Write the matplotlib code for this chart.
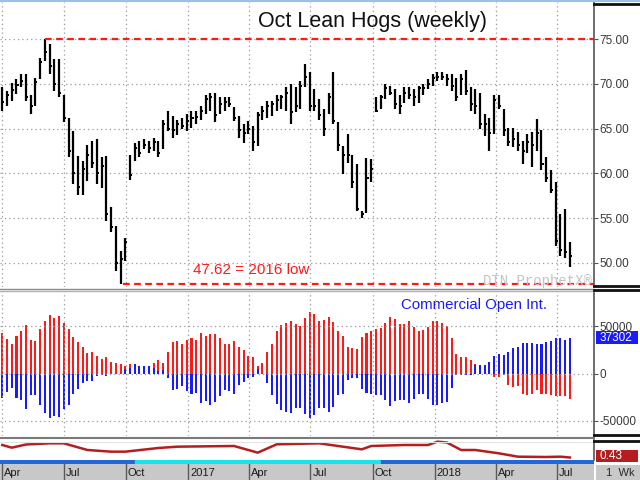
import matplotlib
matplotlib.use('Agg')
import matplotlib.pyplot as plt
import matplotlib.dates as mdates
from matplotlib.patches import Rectangle
from matplotlib.lines import Line2D
import pandas as pd

plt.rcParams['font.family'] = ['Liberation Sans', 'DejaVu Sans']

# --- Data ---
START_DATE = '2016-04-01'  # first weekly bar

highs = [69.6, 69.2, 70.1, 70.5, 71.1, 71.1, 68.7, 70.7, 72.9, 75.0, 74.4, 72.8, 72.8, 68.7, 66.2,
         64.7, 61.9, 61.4, 63.2, 63.6, 63.8, 61.8, 61.9, 56.2, 54.1, 51.3, 52.8,
         62.1, 63.4, 63.6, 63.8, 63.6, 64.0, 63.6, 66.0, 67.0, 66.4, 66.0, 66.2, 66.6, 67.0,
         67.0, 67.5, 68.8, 69.0, 69.0, 68.5, 68.5, 68.5, 67.4, 66.4, 65.5, 65.9, 65.3, 66.8,
         67.5, 68.1, 68.1, 68.7, 68.7, 69.6, 70.0, 69.6, 70.3, 72.2, 71.3, 69.4, 68.3, 67.2,
         69.0, 71.3, 65.7, 63.1, 64.4, 62.1, 61.0, 55.8, 61.7, 61.6,
         68.5, 68.8, 70.0, 69.8, 69.4, 68.7, 69.6, 69.6, 69.4, 69.8, 70.0, 70.5, 71.1, 71.3,
         71.3, 71.1, 71.1, 70.7, 71.1, 71.5, 69.6, 69.4, 69.0, 66.6, 66.2, 68.7, 68.8, 67.2,
         65.1, 65.1, 64.6, 63.6, 64.4, 64.6, 66.1, 64.8, 61.8, 60.4, 59.0, 55.5, 56.0, 52.3]
lows = [67.0, 67.5, 68.1, 68.9, 69.6, 68.1, 66.6, 67.5, 70.5, 72.6, 71.1, 69.2, 68.5, 65.7, 61.8,
        58.8, 57.6, 57.6, 59.1, 60.6, 58.8, 58.4, 54.7, 53.5, 49.1, 47.62, 50.2,
        59.3, 61.4, 61.8, 62.7, 62.3, 62.5, 61.8, 62.7, 64.7, 64.0, 64.3, 64.9, 64.7, 65.1,
        65.5, 66.0, 66.6, 67.0, 65.7, 66.6, 67.0, 67.4, 65.9, 64.0, 63.4, 64.4, 62.5, 63.1,
        66.0, 66.2, 66.4, 67.0, 67.2, 67.0, 65.5, 66.8, 67.2, 69.6, 67.0, 67.0, 66.0, 64.2,
        66.6, 65.5, 62.5, 59.9, 61.2, 58.4, 55.8, 55.0, 55.6, 59.0,
        66.8, 67.2, 68.3, 68.7, 67.2, 66.6, 67.9, 68.3, 67.5, 67.9, 68.8, 69.4, 69.8, 70.3,
        70.4, 69.8, 69.2, 68.1, 68.8, 68.8, 67.0, 66.6, 64.9, 64.2, 62.5, 64.4, 67.2, 64.2,
        63.1, 62.9, 62.5, 61.0, 62.3, 60.7, 62.5, 60.4, 59.0, 57.8, 51.9, 50.8, 50.6, 49.5]
closes = [68.0, 68.8, 69.3, 69.9, 70.3, 68.5, 67.5, 70.2, 72.4, 73.5, 72.0, 70.0, 69.0, 66.2, 62.5,
          60.0, 58.5, 60.5, 62.0, 61.2, 60.0, 60.8, 55.5, 54.0, 50.0, 50.5, 52.3,
          59.8, 62.8, 62.3, 63.2, 62.8, 63.5, 62.3, 65.5, 65.0, 64.8, 65.5, 65.3, 65.8, 66.2,
          66.3, 67.0, 68.3, 68.5, 66.5, 67.8, 68.0, 67.8, 66.2, 64.8, 64.5, 65.0, 63.5, 66.5,
          67.0, 67.5, 67.8, 68.2, 68.5, 69.0, 66.8, 67.5, 69.8, 70.8, 67.5, 67.5, 66.5, 65.0,
          68.5, 65.8, 63.2, 62.0, 62.0, 59.0, 56.0, 55.5, 59.5, 60.5,
          67.0, 68.5, 69.5, 69.0, 67.8, 67.5, 69.0, 68.8, 68.5, 69.5, 69.5, 70.0, 70.6, 70.8,
          70.8, 70.5, 69.8, 68.5, 70.5, 69.2, 67.8, 67.5, 65.5, 65.5, 64.5, 68.2, 67.5, 64.8,
          63.5, 63.8, 63.2, 62.5, 63.5, 63.2, 64.5, 61.0, 59.5, 58.2, 52.5, 51.5, 51.2, 50.8]

HIGH_2016 = 75.0
LOW_2016 = 47.62

red_oi = [42240, 36260, 30600, 39800, 44700, 51000, 35200, 34100, 46500, 55600, 61600, 58100, 60900,
          52800, 46500, 38000, 33400, 28200, 21100, 22900, 18700, 15800, 16900, 12300, 10600, 9900,
          8100, 9900, 8000, 7000, 7000, 8100, 10600, 14100, 11300, 22500, 33400, 34100, 31000, 34800,
          37300,
          35200, 42200, 39800, 41500, 41500, 37000, 30600, 30600, 34100, 28200, 24600, 18000, 17600,
          8100, 11600, 22900, 30600, 44700, 51000, 53500, 55600, 51700, 50300, 58800, 64400, 62700,
          55600, 56300, 59800, 53900, 44700, 39800, 28200, 27100, 25700, 38700, 42200, 44700, 46800,
          47500, 52800, 59100, 57000, 51700, 51700, 55300, 49300, 44700, 45800, 49300, 55300, 55300,
          52800, 50000, 37000, 20100, 17600, 17600, 14100, 9500, 8800, 8000, -700, -3500, -3500,
          -1100, -12300, -13700, -13000, -21100, -22200, -21800, -17600, -21100, -21800, -22900,
          -23600, -23200, -23600, -26400]
blue_oi = [-25700, -19360, -14800, -25300, -28200, -37000, -22200, -22200, -33400, -41200, -46800,
           -44700, -45800, -37000, -32700, -21100, -15800, -9500, -8100, -8100, -2500, -1100, -2500,
           -700, -300, -300, 4600, 6000, 9500, 7700, 7700, 8100, 5300, 2500, 3500, -4600, -17200,
           -16500, -13000, -17900, -21100,
           -20100, -31000, -29200, -32700, -29900, -23600, -17600, -18700, -21100, -12300, -8800,
           -4600, -3500, 4600, -700, -9500, -22900, -31700, -38700, -40500, -41200, -36300, -36300,
           -42900, -46800, -44000, -35900, -35900, -40500, -35200, -22900, -21800, -7000, -4200,
           -4200, -16500, -20100, -21100, -22900,
           -22200, -28200, -34100, -29200, -28200, -28200, -30600, -26400, -21800, -21800, -26400,
           -33400, -32700, -30600, -29900, -15100, -1800, -1100, -1100, -1100, 8800, 8800, 8800,
           12300, 18300, 20400, 19400, 22200, 26400, 28200, 32400, 32400, 32400, 30600, 30600, 33400,
           34100, 37700, 37000, 35200, 37302]

ratio_weeks = [0, 2, 5, 10, 13, 18, 23, 26, 33, 37, 49, 54, 58, 67, 76, 78, 85, 90, 92, 94, 97, 100,
               105, 109, 115, 118, 120]
ratio_vals = [0.58, 0.548, 0.586, 0.60, 0.60, 0.52, 0.50, 0.50, 0.544, 0.56, 0.568, 0.488, 0.588,
              0.60, 0.528, 0.568, 0.58, 0.58, 0.62, 0.61, 0.52, 0.52, 0.48, 0.44, 0.436, 0.44, 0.43]

quarter_dates = ['2016-04-01', '2016-07-01', '2016-10-01', '2017-01-01', '2017-04-01', '2017-07-01',
                 '2017-10-01', '2018-01-01', '2018-04-01', '2018-07-01']
quarter_labels = ['Apr', 'Jul', 'Oct', '2017', 'Apr', 'Jul', 'Oct', '2018', 'Apr', 'Jul']

price_ticks = [50, 55, 60, 65, 70, 75]
oi_ticks = [-50000, 0, 50000]
oi_tick_labels = ['-50000', '0', '50000']

band_edges = ['2016-03-01', '2016-10-14', '2017-10-14', '2018-10-01']
band_colors = ['#2266d8', '#18e4ec', '#2266d8']

# --- Layout helpers (pixel coords, origin top-left) ---
W, H = 640, 480


def px_axes(fig, x0, y0, x1, y1):
    return fig.add_axes([x0 / W, 1 - y1 / H, (x1 - x0) / W, (y1 - y0) / H])


def fline(fig, x0, x1, y, color, lw):
    fig.add_artist(Line2D([x0 / W, x1 / W], [1 - y / H, 1 - y / H], transform=fig.transFigure,
                          color=color, lw=lw))


def fbox(fig, x0, y0, x1, y1, color):
    fig.add_artist(Rectangle((x0 / W, 1 - y1 / H), (x1 - x0) / W, (y1 - y0) / H,
                             transform=fig.transFigure, facecolor=color, edgecolor='none'))


weeks = pd.date_range(START_DATE, periods=len(highs), freq='7D')
xd = mdates.date2num(weeks)
x_left = mdates.date2num(pd.Timestamp(START_DATE)) - 3.4
x_right = mdates.date2num(pd.Timestamp(START_DATE)) + 875.7
qd = mdates.date2num(pd.to_datetime(quarter_dates))

GRID = dict(color='#9a9a9a', linestyle=(0, (1, 2.5)), lw=0.9)
TICK_COLOR = '#3a3a3a'

fig = plt.figure(figsize=(6.4, 4.8), dpi=100)
fig.patch.set_facecolor('white')

ax_p = px_axes(fig, 0, 2, 594, 287)
ax_oi = px_axes(fig, 0, 291, 594, 436)
ax_r = px_axes(fig, 0, 440, 594, 460)
ax_d = px_axes(fig, 0, 463, 594, 480)

for ax in (ax_p, ax_oi, ax_r):
    ax.set_xlim(x_left, x_right)
    ax.set_xticks(qd)
    ax.tick_params(axis='x', length=0, labelbottom=False)
    ax.yaxis.tick_right()
    ax.tick_params(axis='y', direction='out', length=3, pad=1, labelsize=8.5,
                   colors='#555555', labelcolor=TICK_COLOR)
    for s in ('top', 'left', 'bottom'):
        ax.spines[s].set_visible(False)
    ax.spines['right'].set_color('#555555')
    ax.spines['right'].set_linewidth(1.2)

# Price panel (weekly HLC bars)
ax_p.vlines(xd, lows, highs, color='black', lw=1.6)
ax_p.hlines(closes, xd, xd + 3.0, color='black', lw=1.4)
ax_p.set_ylim(47.32, 79.13)
ax_p.set_yticks(price_ticks)
ax_p.set_yticklabels([f'{t:.2f}' for t in price_ticks])
ax_p.grid(True, **GRID)

i_hi = highs.index(max(highs))
i_lo = lows.index(min(lows))
ax_p.hlines(HIGH_2016, xd[i_hi], x_right, colors='#ff1a1a', linestyles=(0, (3, 2)), lw=1.6)
ax_p.hlines(LOW_2016, xd[i_lo] + 3.5, x_right, colors='#ff1a1a', linestyles=(0, (3, 2)), lw=1.6,
            clip_on=False)
ax_p.text(251 / 594, 0.058, f'{LOW_2016:.2f} = 2016 low', transform=ax_p.transAxes,
          ha='center', va='center', color='#ff1a1a', fontsize=11)
ax_p.text(483 / 594, 0.022, 'DTN ProphetX®', transform=ax_p.transAxes, ha='left', va='center',
          color='#c4c4c4', fontsize=10, family=['Liberation Mono', 'DejaVu Sans Mono'])
fig.text(373 / W, 1 - 21 / H, 'Oct Lean Hogs (weekly)', ha='center', va='center', fontsize=15.5,
         color='#111111')

# Commercial open interest panel
ax_oi.bar(xd, red_oi, width=3.0, color='#ff1a1a')
ax_oi.bar(xd, blue_oi, width=3.0, color='#1a1aff')
ax_oi.set_ylim(-65800, 86900)
ax_oi.set_yticks(oi_ticks)
ax_oi.set_yticklabels(oi_tick_labels)
ax_oi.grid(True, **GRID)
ax_oi.text(474 / 594, 0.90, 'Commercial Open Int.', transform=ax_oi.transAxes, ha='center',
           va='center', color='#1a1aff', fontsize=10.8)

# Bottom line panel
ax_r.plot(xd[ratio_weeks], ratio_vals, color='#b41e1e', lw=1.8)
ax_r.set_ylim(0.40, 0.64)
ax_r.set_yticks([])
ax_r.axhline(0.62, color='#e4e4e4', lw=0.8)

# Date strip
ax_d.set_xlim(x_left, x_right)
ax_d.set_ylim(0, 1)
ax_d.set_facecolor('#c8c8c8')
ax_d.set_xticks([])
ax_d.set_yticks([])
for s in ax_d.spines.values():
    s.set_visible(False)
ax_d.vlines(qd, 0, 1, color='#5a5a5a', lw=1)
for d, lab in zip(qd, quarter_labels):
    ax_d.text(d + 3, 0.4, lab, ha='left', va='center', fontsize=8, color='#1a1a1a')

# Contract bands just above the date strip
ax_b = px_axes(fig, 0, 460, 594, 463.5)
ax_b.set_xlim(x_left, x_right)
ax_b.set_ylim(0, 1)
ax_b.axis('off')
for k, c in enumerate(band_colors):
    e0, e1 = mdates.date2num(pd.to_datetime(band_edges[k:k + 2]))
    ax_b.axvspan(e0, e1, color=c)

# Panel separators and right-hand decorations
fline(fig, 0, 594, 288.5, '#8a8a8a', 1.0)
fline(fig, 0, 594, 290.5, '#b0b0b0', 1.0)
fline(fig, 0, 594, 437.5, '#7a7a7a', 1.5)
fline(fig, 0, 640, 0.8, '#9cc0ea', 1.5)
for y in (4, 286, 289.5, 435, 441):
    fline(fig, 594, 640, y, '#111111', 2.0)

fbox(fig, 596, 331, 638, 344, '#1a1aff')
fig.text(600 / W, 1 - 338 / H, f'{blue_oi[-1]}', color='white', fontsize=8.5, ha='left', va='center')
fbox(fig, 596, 450, 638, 462, '#b41e1e')
fig.text(600 / W, 1 - 456 / H, f'{ratio_vals[-1]:.2f}', color='white', fontsize=8.5, ha='left',
         va='center')
fbox(fig, 596, 465, 640, 480, '#c8c8c8')
fig.text(606 / W, 1 - 473 / H, '1  Wk', color='#2a2a2a', fontsize=8, ha='left', va='center')

fig.savefig('out.png', dpi=100, facecolor='white')
